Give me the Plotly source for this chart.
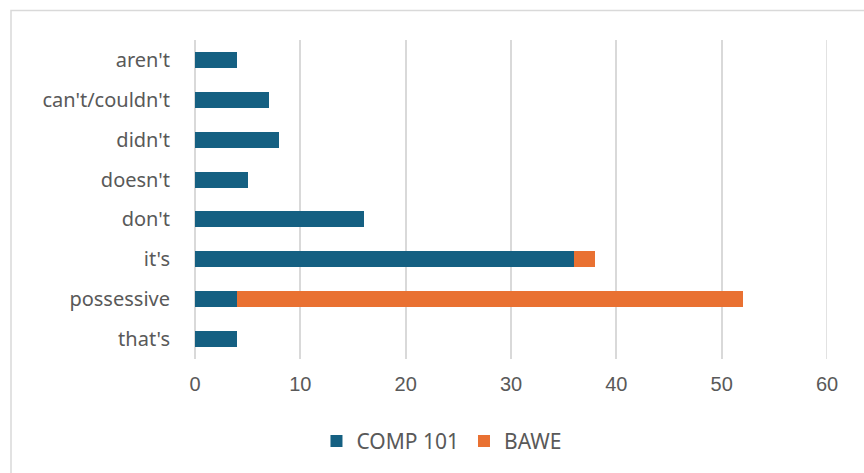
import plotly.graph_objects as go

categories = ["aren't", "can't/couldn't", "didn't", "doesn't", "don't", "it's", "possessive", "that's"]
comp101 = [4, 7, 8, 5, 16, 36, 4, 4]
bawe = [0, 0, 0, 0, 0, 2, 48, 0]
x_ticks = [0, 10, 20, 30, 40, 50, 60]

GRID = "#D9D9D9"
TEXT = "#595959"

fig = go.Figure()
fig.add_trace(go.Bar(
    y=categories, x=comp101, name="COMP 101", orientation="h",
    marker=dict(color="#156082", line=dict(width=0)),
))
fig.add_trace(go.Bar(
    y=categories, x=bawe, name="BAWE", orientation="h",
    marker=dict(color="#E97132", line=dict(width=0)),
))

fig.update_layout(
    barmode="stack",
    bargap=0.6,
    width=864, height=473,
    margin=dict(l=195, r=37, t=40, b=113),
    plot_bgcolor="white", paper_bgcolor="white",
    showlegend=True,
    legend=dict(
        orientation="h", x=0.39, xanchor="center", y=-0.19, yanchor="top",
        font=dict(family="Noto Sans", size=21, color=TEXT),
        itemwidth=30, traceorder="normal",
    ),
    shapes=[
        # chart frame
        dict(type="rect", xref="paper", yref="paper",
             x0=(11 - 195) / 632, x1=1.2, y0=-0.5, y1=(360 - 10.5) / 320,
             line=dict(color=GRID, width=1.5), fillcolor="rgba(0,0,0,0)",
             layer="below"),
        # gridline at the right end of the value axis
        dict(type="line", xref="x", yref="paper",
             x0=x_ticks[-1], x1=x_ticks[-1], y0=0, y1=1,
             line=dict(color=GRID, width=1.5), layer="below"),
    ],
)
fig.update_xaxes(
    range=[x_ticks[0], x_ticks[-1]], tickvals=x_ticks, showgrid=True, gridcolor=GRID, gridwidth=1.5,
    zeroline=True, zerolinecolor=GRID, zerolinewidth=1.5, showline=False,
    tickfont=dict(family="Liberation Sans", size=20, color=TEXT),
    ticks="outside", ticklen=7, tickcolor="rgba(0,0,0,0)",
)
fig.update_yaxes(
    autorange="reversed", showgrid=False, zeroline=False, showline=False,
    tickfont=dict(family="Noto Sans", size=20, color=TEXT),
    ticks="outside", ticklen=20, tickcolor="rgba(0,0,0,0)",
)

fig.write_html("out.html")
